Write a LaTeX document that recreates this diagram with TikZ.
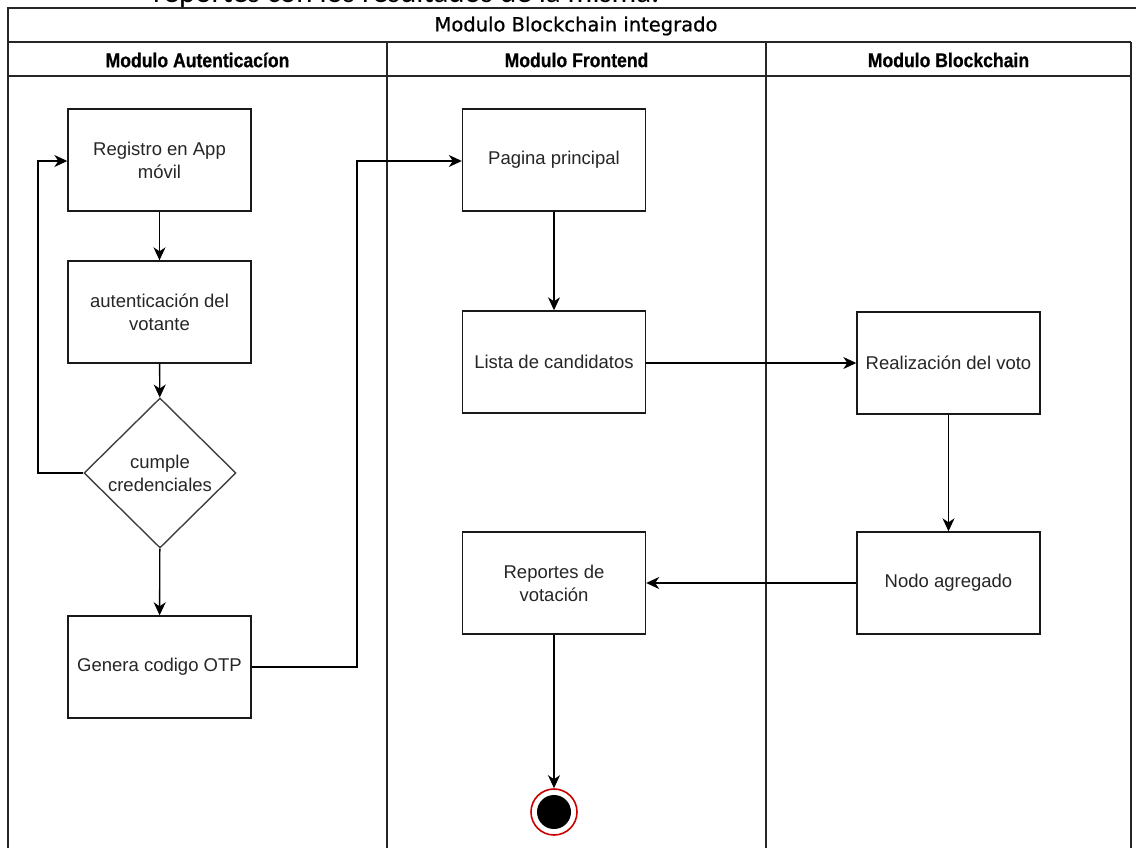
\documentclass[tikz,border=0pt]{standalone}
\usepackage{fontspec}
\setmainfont{Liberation Sans}
\newfontfamily\hdrfont[FakeStretch=0.88,FakeBold=0.6]{Liberation Sans}
\newfontfamily\ttlfont[FakeBold=0.8]{DejaVu Sans}
\newfontfamily\docfont{Carlito}
\usetikzlibrary{shapes.geometric,arrows.meta}
\tikzset{
  frameline/.style={draw=black!85, line width=1.6pt},
  procbox/.style={draw=black!90, line width=1.4pt, rectangle, minimum width=183pt, minimum height=102pt,
    inner sep=0pt, align=center, font=\fontsize{18.5}{23}\selectfont, text=black!85},
  decbox/.style={draw=black!75, line width=1.4pt, diamond, minimum width=152pt, minimum height=150pt,
    inner sep=0pt, align=center, font=\fontsize{18.5}{23}\selectfont, text=black!85},
  flow/.style={draw=black, line width=1.4pt, -{Stealth[length=13pt,width=12pt,inset=4pt]}},
  lanetitle/.style={font=\hdrfont\bfseries\fontsize{20}{22}\selectfont, text=black, inner sep=0pt},
  endnode/.style={circle, draw=red!80!black, line width=1.6pt, fill=white, minimum size=46pt, inner sep=0pt,
    path picture={\fill[black] (path picture bounding box.center) circle (17pt);}}
}
\begin{document}
\begin{tikzpicture}[x=1pt,y=-1pt]
\useasboundingbox (0,0) rectangle (1136,847);
\begin{scope}
\clip (0,0) rectangle (1136,847);
\fill[white] (0,0) rectangle (1136,847);
% cut-off document text at the top
\node[anchor=base west, inner sep=0pt, font=\docfont\fontsize{31}{36}\selectfont, text=black] (doctext) at (153,2) {reportes con los resultados de la misma.};
% pool frame
\draw[frameline] (8,860) -- (8,8) -- (1136,8);
\draw[frameline] (1131,42) -- (1131,860);
\draw[frameline] (8,42) -- (1131,42);
\draw[frameline] (8,76) -- (1131,76);
\draw[frameline] (387,42) -- (387,860);
\draw[frameline] (766,42) -- (766,860);
\node[font=\ttlfont\fontsize{19.5}{22}\selectfont, inner sep=0pt] (pooltitle) at (576,26) {Modulo Blockchain integrado};
\node[lanetitle] (lane1) at (197.5,60) {Modulo Autenticacíon};
\node[lanetitle] (lane2) at (576.5,60) {Modulo Frontend};
\node[lanetitle] (lane3) at (948.5,60) {Modulo Blockchain};
% nodes
\node[procbox] (reg) at (159.5,160) {Registro en App\\móvil};
\node[procbox] (aut) at (159.5,312) {autenticación del\\votante};
\node[decbox] (dec) at (160,473) {cumple\\credenciales};
\node[procbox] (otp) at (159.5,667) {Genera codigo OTP};
\node[procbox] (pag) at (554,160) {Pagina principal};
\node[procbox] (lis) at (554,362) {Lista de candidatos};
\node[procbox] (rea) at (948.5,363) {Realización del voto};
\node[procbox] (nod) at (948.5,583) {Nodo agregado};
\node[procbox] (rep) at (554,583) {Reportes de\\votación};
\node[endnode] (fin) at (554,812) {};
% connectors
\draw[flow] (reg) -- (aut);
\draw[flow] (aut) -- (dec);
\draw[flow] (dec) -- (otp);
\draw[flow] (dec.west) -- (38,473) -- (38,161) -- (reg.west |- 0,161);
\draw[flow] (otp.east) -- (357,667) -- (357,161) -- (pag.west |- 0,161);
\draw[flow] (pag) -- (lis);
\draw[flow] (lis.east |- 0,363) -- (rea.west);
\draw[flow] (rea) -- (nod);
\draw[flow] (nod.west) -- (rep.east);
\draw[flow] (rep) -- (fin);
\end{scope}
\end{tikzpicture}
\end{document}
